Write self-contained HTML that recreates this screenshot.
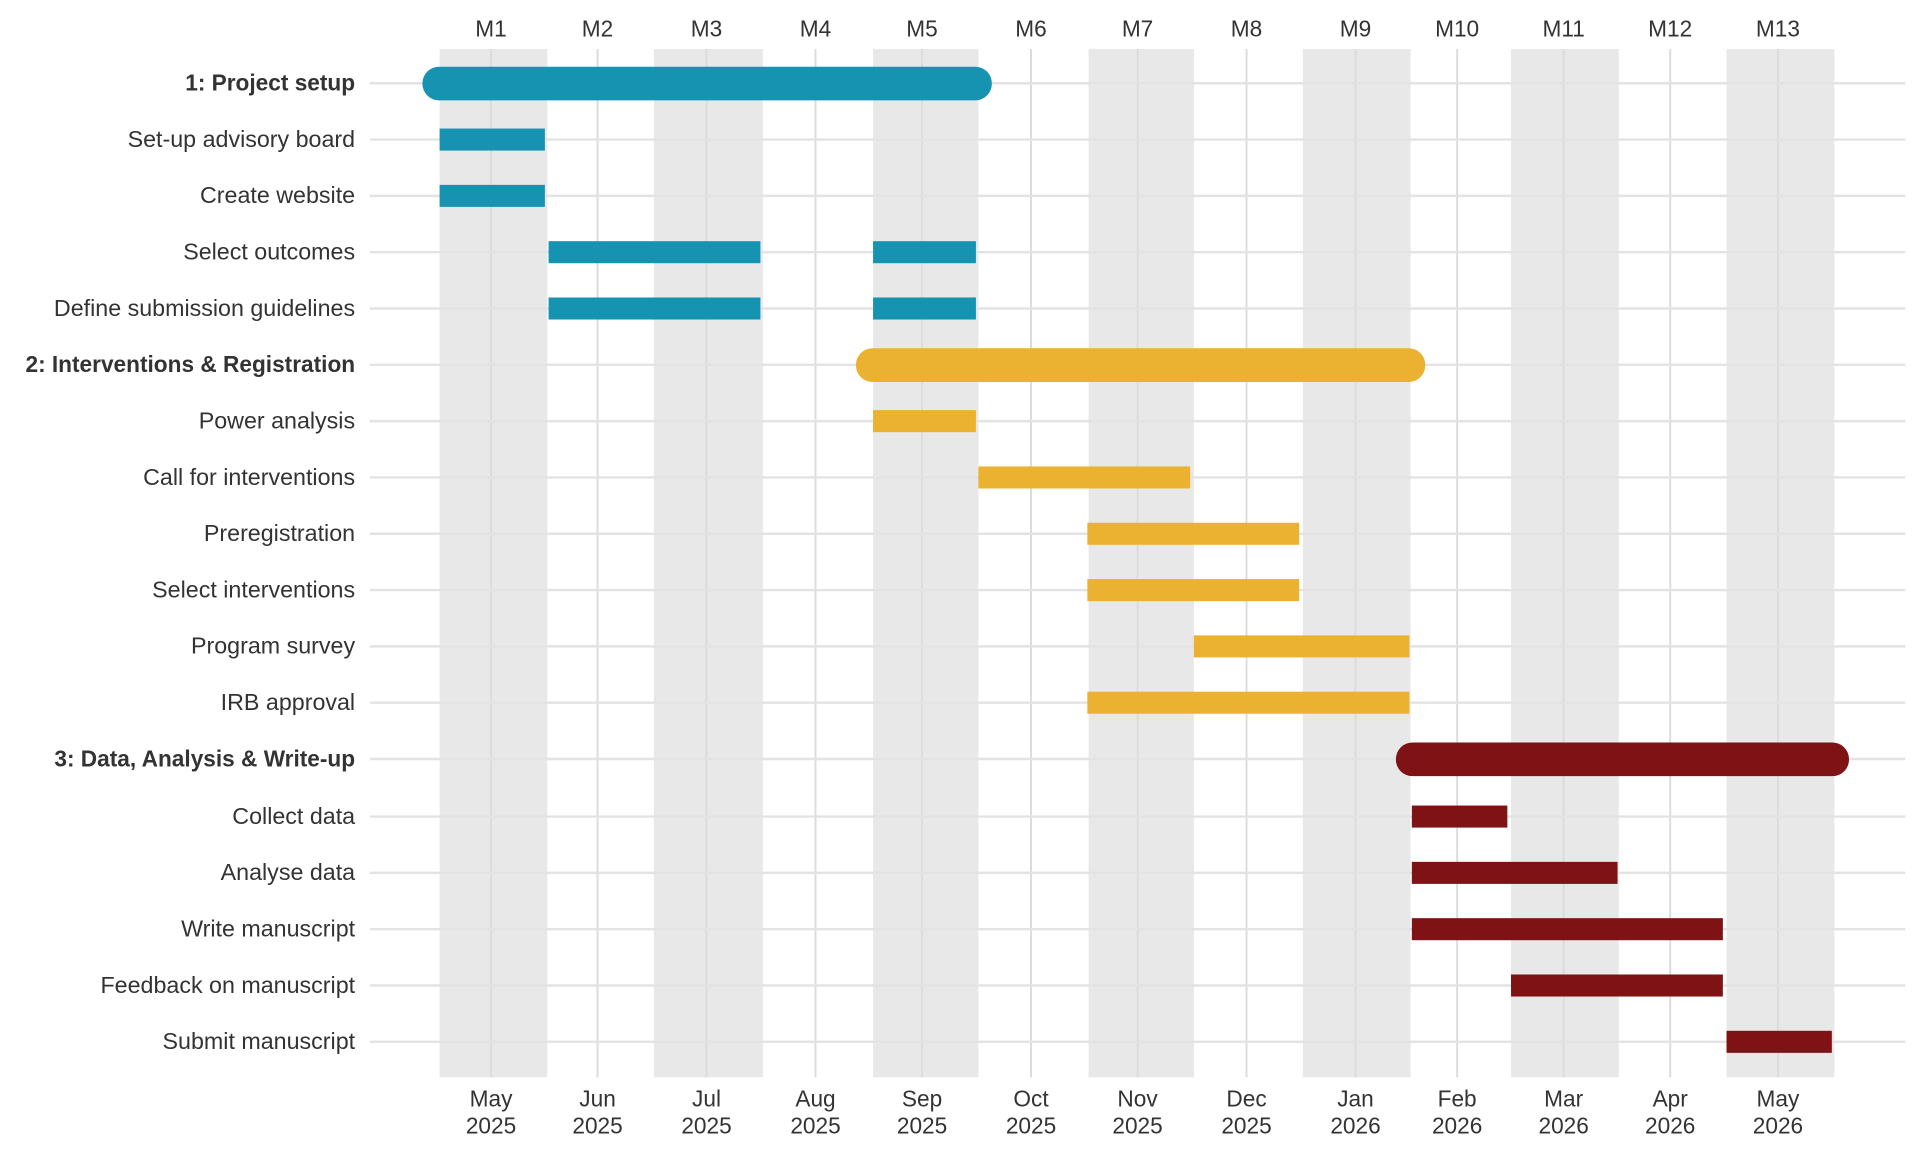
<!DOCTYPE html>
<html><head><meta charset="utf-8"><style>
html,body{margin:0;padding:0;background:#fff;}
svg{display:block;}
text{font-family:"Liberation Sans",Arial,sans-serif;fill:#333;}
</style></head><body>
<svg width="1920" height="1152" viewBox="0 0 1568 941" preserveAspectRatio="none" xmlns="http://www.w3.org/2000/svg">
<g fill="#e8e8e8">
<rect x="359" y="40" width="88" height="840"/>
<rect x="534" y="40" width="89" height="840"/>
<rect x="713" y="40" width="86" height="840"/>
<rect x="889" y="40" width="86" height="840"/>
<rect x="1064" y="40" width="88" height="840"/>
<rect x="1234" y="40" width="88" height="840"/>
<rect x="1410" y="40" width="88" height="840"/>
</g>
<g stroke="#dcdcdc" stroke-width="1.6">
<line x1="401" y1="40" x2="401" y2="880"/><line x1="488" y1="40" x2="488" y2="880"/>
<line x1="577" y1="40" x2="577" y2="880"/><line x1="666" y1="40" x2="666" y2="880"/>
<line x1="753" y1="40" x2="753" y2="880"/><line x1="842" y1="40" x2="842" y2="880"/>
<line x1="929" y1="40" x2="929" y2="880"/><line x1="1018" y1="40" x2="1018" y2="880"/>
<line x1="1107" y1="40" x2="1107" y2="880"/><line x1="1190" y1="40" x2="1190" y2="880"/>
<line x1="1277" y1="40" x2="1277" y2="880"/><line x1="1364" y1="40" x2="1364" y2="880"/>
<line x1="1452" y1="40" x2="1452" y2="880"/>
</g>
<g stroke="#e3e3e3" stroke-width="2">
<line x1="302" y1="68" x2="1556" y2="68"/><line x1="302" y1="114" x2="1556" y2="114"/>
<line x1="302" y1="160" x2="1556" y2="160"/><line x1="302" y1="206" x2="1556" y2="206"/>
<line x1="302" y1="252" x2="1556" y2="252"/><line x1="302" y1="298" x2="1556" y2="298"/>
<line x1="302" y1="344" x2="1556" y2="344"/><line x1="302" y1="390" x2="1556" y2="390"/>
<line x1="302" y1="436" x2="1556" y2="436"/><line x1="302" y1="482" x2="1556" y2="482"/>
<line x1="302" y1="528" x2="1556" y2="528"/><line x1="302" y1="574" x2="1556" y2="574"/>
<line x1="302" y1="620" x2="1556" y2="620"/><line x1="302" y1="667" x2="1556" y2="667"/>
<line x1="302" y1="713" x2="1556" y2="713"/><line x1="302" y1="759" x2="1556" y2="759"/>
<line x1="302" y1="805" x2="1556" y2="805"/><line x1="302" y1="851" x2="1556" y2="851"/>
</g>
<g fill="#1793b2">
<rect x="345" y="54.5" width="465" height="27.5" rx="13.5"/>
<rect x="359" y="105" width="86" height="18"/>
<rect x="359" y="151" width="86" height="18"/>
<rect x="448" y="197" width="173" height="18"/><rect x="713" y="197" width="84" height="18"/>
<rect x="448" y="243" width="173" height="18"/><rect x="713" y="243" width="84" height="18"/>
</g>
<g fill="#ebb130">
<rect x="699" y="284.5" width="465" height="27.5" rx="13.5"/>
<rect x="713" y="335" width="84" height="18"/>
<rect x="799" y="381" width="173" height="18"/>
<rect x="888" y="427" width="173" height="18"/>
<rect x="888" y="473" width="173" height="18"/>
<rect x="975" y="519" width="176" height="18"/>
<rect x="888" y="565" width="263" height="18"/>
</g>
<g fill="#7e1214">
<rect x="1140" y="606.5" width="370" height="27.5" rx="13.5"/>
<rect x="1153" y="658" width="78" height="18"/>
<rect x="1153" y="704" width="168" height="18"/>
<rect x="1153" y="750" width="254" height="18"/>
<rect x="1234" y="796" width="173" height="18"/>
<rect x="1410" y="842" width="86" height="18"/>
</g>
<g font-size="19" text-anchor="end">
<text x="290" y="74" font-weight="bold" font-size="18.5">1: Project setup</text>
<text x="290" y="120">Set-up advisory board</text>
<text x="290" y="166">Create website</text>
<text x="290" y="212">Select outcomes</text>
<text x="290" y="258">Define submission guidelines</text>
<text x="290" y="304" font-weight="bold" font-size="18.5">2: Interventions &amp; Registration</text>
<text x="290" y="350">Power analysis</text>
<text x="290" y="396">Call for interventions</text>
<text x="290" y="442">Preregistration</text>
<text x="290" y="488">Select interventions</text>
<text x="290" y="534">Program survey</text>
<text x="290" y="580">IRB approval</text>
<text x="290" y="626" font-weight="bold" font-size="18.5">3: Data, Analysis &amp; Write-up</text>
<text x="290" y="673">Collect data</text>
<text x="290" y="719">Analyse data</text>
<text x="290" y="765">Write manuscript</text>
<text x="290" y="811">Feedback on manuscript</text>
<text x="290" y="857">Submit manuscript</text>
</g>
<g font-size="18.5" text-anchor="middle">
<text x="401" y="30">M1</text><text x="488" y="30">M2</text><text x="577" y="30">M3</text>
<text x="666" y="30">M4</text><text x="753" y="30">M5</text><text x="842" y="30">M6</text>
<text x="929" y="30">M7</text><text x="1018" y="30">M8</text><text x="1107" y="30">M9</text>
<text x="1190" y="30">M10</text><text x="1277" y="30">M11</text><text x="1364" y="30">M12</text>
<text x="1452" y="30">M13</text>
</g>
<g font-size="18.5" text-anchor="middle">
<text x="401" y="904">May</text><text x="401" y="926">2025</text>
<text x="488" y="904">Jun</text><text x="488" y="926">2025</text>
<text x="577" y="904">Jul</text><text x="577" y="926">2025</text>
<text x="666" y="904">Aug</text><text x="666" y="926">2025</text>
<text x="753" y="904">Sep</text><text x="753" y="926">2025</text>
<text x="842" y="904">Oct</text><text x="842" y="926">2025</text>
<text x="929" y="904">Nov</text><text x="929" y="926">2025</text>
<text x="1018" y="904">Dec</text><text x="1018" y="926">2025</text>
<text x="1107" y="904">Jan</text><text x="1107" y="926">2026</text>
<text x="1190" y="904">Feb</text><text x="1190" y="926">2026</text>
<text x="1277" y="904">Mar</text><text x="1277" y="926">2026</text>
<text x="1364" y="904">Apr</text><text x="1364" y="926">2026</text>
<text x="1452" y="904">May</text><text x="1452" y="926">2026</text>
</g>
</svg>
</body></html>
